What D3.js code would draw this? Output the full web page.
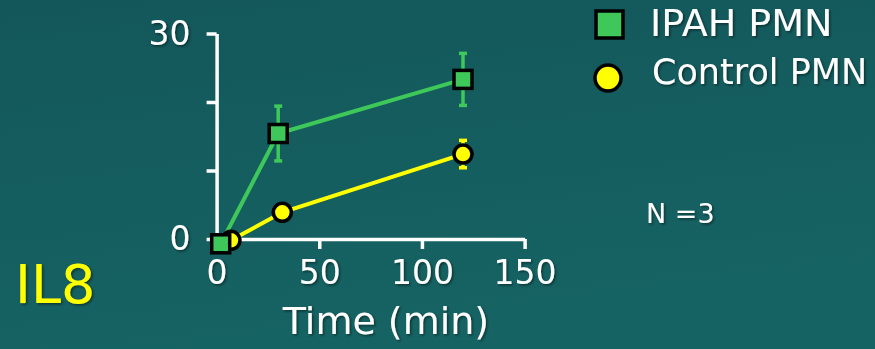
<!DOCTYPE html>
<html>
<head>
<meta charset="utf-8">
<script src="https://cdn.jsdelivr.net/npm/d3@7"></script>
<style>
    html, body { margin: 0; padding: 0; }
    body { width: 875px; height: 349px; overflow: hidden; }
    text { font-family: "Comic Sans MS", "DejaVu Sans", sans-serif; }
</style>
</head>
<body>
<div id="chart"></div>
<script>
// values
const ipahTimes = [2, 30, 120];
const ipahValues = [-0.7, 15.4, 23.3];
const ipahErrors = [0, 4, 3.8];

const controlTimes = [7, 32, 120];
const controlValues = [-0.2, 3.9, 12.4];
const controlErrors = [0, 0, 2];

const xTicks = [0, 50, 100, 150];
const yTicks = [0, 10, 20, 30];
const yTickLabels = {0: "0", 30: "30"};

const legendLabels = ["IPAH PMN", "Control PMN"];

const width = 875, height = 349;
const plot = {left: 216.6, right: 524.6, top: 33.5, bottom: 239};

const green = "#3ec85a", yellow = "#ffff00";

const svg = d3.select("#chart")
    .append("svg")
    .attr("width", width)
    .attr("height", height);

const grad = svg.append("defs").append("linearGradient")
    .attr("id", "bg")
    .attr("x1", 0).attr("y1", 0).attr("x2", 0.3).attr("y2", 1);
grad.append("stop").attr("offset", "0%").attr("stop-color", "#13575a");
grad.append("stop").attr("offset", "100%").attr("stop-color", "#166363");

svg.append("rect")
    .attr("width", width)
    .attr("height", height)
    .attr("fill", "url(#bg)");

const shadow = svg.select("defs").append("filter").attr("id", "shadow");
shadow.append("feDropShadow")
    .attr("dx", 1.5).attr("dy", 1.5).attr("stdDeviation", 0.8)
    .attr("flood-color", "#000").attr("flood-opacity", 0.45);

const x = d3.scaleLinear().domain([0, 150]).range([plot.left, plot.right]);
const y = d3.scaleLinear().domain([0, 30]).range([plot.bottom, plot.top]);

// axes
const xAxis = svg.append("g")
    .attr("transform", `translate(0, ${plot.bottom})`)
    .call(d3.axisBottom(x).tickValues(xTicks).tickSize(10).tickSizeOuter(0).tickPadding(12));

const yAxis = svg.append("g")
    .attr("transform", `translate(${plot.left}, 0)`)
    .call(d3.axisLeft(y).tickValues(yTicks).tickSize(10).tickSizeOuter(0).tickPadding(16)
        .tickFormat(d => yTickLabels[d] || ""));

[xAxis, yAxis].forEach(ax => {
    ax.attr("font-family", null);
    ax.select(".domain").attr("stroke", "#fff").attr("stroke-width", 3.5);
    ax.selectAll(".tick line").attr("stroke", "#fff").attr("stroke-width", 3.5);
    ax.selectAll(".tick text")
        .attr("fill", "#fff")
        .attr("font-size", 33)
        .attr("filter", "url(#shadow)");
});

svg.append("text")
    .attr("x", 386)
    .attr("y", 334)
    .attr("text-anchor", "middle")
    .attr("fill", "#fff")
    .attr("font-size", 38)
    .attr("filter", "url(#shadow)")
    .text("Time (min)");

const ipah = ipahTimes.map((t, i) => ({t, v: ipahValues[i], e: ipahErrors[i]}));
const control = controlTimes.map((t, i) => ({t, v: controlValues[i], e: controlErrors[i]}));

const line = d3.line().x(d => x(d.t)).y(d => y(d.v));

svg.append("path").datum(control)
    .attr("d", line).attr("fill", "none")
    .attr("stroke", yellow).attr("stroke-width", 4);

svg.append("path").datum(ipah)
    .attr("d", line).attr("fill", "none")
    .attr("stroke", green).attr("stroke-width", 4);

function errorBars(data, color) {
    const g = svg.append("g").attr("stroke", color).attr("stroke-width", 3.5);
    const withErr = data.filter(d => d.e > 0);
    g.selectAll(".v").data(withErr).enter().append("line")
        .attr("x1", d => x(d.t)).attr("x2", d => x(d.t))
        .attr("y1", d => y(d.v - d.e)).attr("y2", d => y(d.v + d.e));
    g.selectAll(".top").data(withErr).enter().append("line")
        .attr("x1", d => x(d.t) - 4).attr("x2", d => x(d.t) + 4)
        .attr("y1", d => y(d.v + d.e)).attr("y2", d => y(d.v + d.e));
    g.selectAll(".bot").data(withErr).enter().append("line")
        .attr("x1", d => x(d.t) - 4).attr("x2", d => x(d.t) + 4)
        .attr("y1", d => y(d.v - d.e)).attr("y2", d => y(d.v - d.e));
}

errorBars(control, yellow);
svg.selectAll(".circ").data(control).enter().append("circle")
    .attr("cx", d => x(d.t)).attr("cy", d => y(d.v)).attr("r", 9)
    .attr("fill", yellow).attr("stroke", "#000").attr("stroke-width", 3.5);

errorBars(ipah, green);
svg.selectAll(".sq").data(ipah).enter().append("rect")
    .attr("x", d => x(d.t) - 9).attr("y", d => y(d.v) - 9)
    .attr("width", 18).attr("height", 18)
    .attr("fill", green).attr("stroke", "#000").attr("stroke-width", 3.5);

// legend
svg.append("rect")
    .attr("x", 596).attr("y", 11).attr("width", 27).attr("height", 27)
    .attr("fill", green).attr("stroke", "#000").attr("stroke-width", 3.5);
svg.append("circle")
    .attr("cx", 608).attr("cy", 78).attr("r", 13)
    .attr("fill", yellow).attr("stroke", "#000").attr("stroke-width", 3.5);

svg.selectAll(".leg").data(legendLabels).enter().append("text")
    .attr("x", (d, i) => i === 0 ? 650 : 652)
    .attr("y", (d, i) => i === 0 ? 36 : 84)
    .attr("fill", "#fff")
    .attr("font-size", (d, i) => i === 0 ? 38 : 35)
    .attr("filter", "url(#shadow)")
    .text(d => d);

svg.append("text")
    .attr("x", 646).attr("y", 223)
    .attr("fill", "#fff").attr("font-size", 27)
    .attr("filter", "url(#shadow)")
    .text("N =3");

svg.append("text")
    .attr("x", 15).attr("y", 303)
    .attr("fill", yellow).attr("font-size", 54)
    .attr("filter", "url(#shadow)")
    .text("IL8");
</script>
</body>
</html>
